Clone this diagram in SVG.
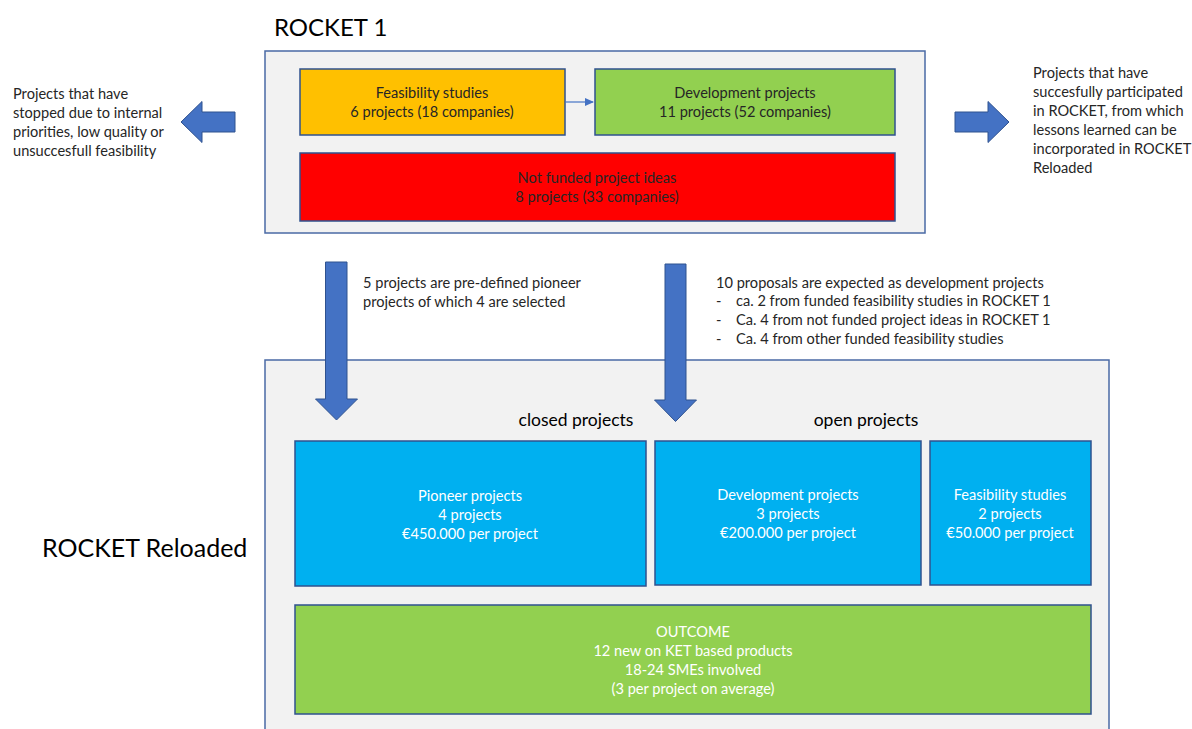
<svg xmlns="http://www.w3.org/2000/svg" width="1192" height="729" viewBox="0 0 1192 729">
<style>
text{font-family:"Lato","Liberation Sans",sans-serif;font-size:14.6px;fill:#262626}
.w{fill:#ffffff}
.c{text-anchor:middle}
.cont{fill:#f2f2f2;stroke:#4a6aa5;stroke-width:1.5}
.box{stroke:#2f528f;stroke-width:1.5}
.arr{fill:#4472c4;stroke:#2f528f;stroke-width:1}
.big{font-size:24px;fill:#000}
.mid{font-size:17.5px;fill:#000}
</style>
<defs>
<marker id="ah" markerWidth="10" markerHeight="10" refX="8" refY="4" orient="auto" markerUnits="userSpaceOnUse">
<path d="M0,0 L9,4 L0,8 Z" fill="#4472c4"/>
</marker>
</defs>
<rect width="1192" height="729" fill="#ffffff"/>

<g id="rocket1">
<text x="274" y="36" class="big">ROCKET 1</text>
<rect x="265" y="51" width="660" height="182" class="cont"/>
</g>
<g id="feas1">
<rect x="300" y="69" width="265" height="66" fill="#ffc000" class="box"/>
<text x="432" y="98" class="c">Feasibility studies</text>
<text x="432" y="117" class="c">6 projects (18 companies)</text>
</g>
<g id="dev1">
<rect x="595" y="69" width="300" height="66" fill="#92d050" class="box"/>
<text x="745" y="98" class="c">Development projects</text>
<text x="745" y="117" class="c">11 projects (52 companies)</text>
</g>
<g id="notfunded">
<rect x="300" y="153" width="595" height="68" fill="#ff0000" class="box"/>
<text x="597" y="183" class="c">Not funded project ideas</text>
<text x="597" y="202" class="c">8 projects (33 companies)</text>
</g>

<g id="left-note">
<text x="13"><tspan x="13" y="99">Projects that have</tspan><tspan x="13" y="118">stopped due to internal</tspan><tspan x="13" y="137">priorities, low quality or</tspan><tspan x="13" y="156">unsuccesfull feasibility</tspan></text>
</g>
<g id="right-note">
<text x="1033"><tspan x="1033" y="78">Projects that have</tspan><tspan x="1033" y="97">succesfully participated</tspan><tspan x="1033" y="116">in ROCKET, from which</tspan><tspan x="1033" y="135">lessons learned can be</tspan><tspan x="1033" y="154">incorporated in ROCKET</tspan><tspan x="1033" y="173">Reloaded</tspan></text>
</g>
<g id="note-pioneer">
<text x="363" y="288">5 projects are pre-defined pioneer</text>
<text x="363" y="307">projects of which 4 are selected</text>
</g>
<g id="note-dev">
<text x="716" y="288">10 proposals are expected as development projects</text>
<text x="716" y="306">-</text><text x="736" y="306">ca. 2 from funded feasibility studies in ROCKET 1</text>
<text x="716" y="325">-</text><text x="736" y="325">Ca. 4 from not funded project ideas in ROCKET 1</text>
<text x="716" y="344">-</text><text x="736" y="344">Ca. 4 from other funded feasibility studies</text>
</g>

<g id="reloaded">
<rect x="265" y="360" width="844" height="380" class="cont"/>
<text x="42" y="557" class="big" style="font-size:25px">ROCKET Reloaded</text>
<text x="576" y="426" class="mid c">closed projects</text>
<text x="866" y="426" class="mid c">open projects</text>
</g>
<g id="pioneer">
<rect x="295" y="441" width="351" height="145" fill="#00b0f0" class="box"/>
<text x="470" y="501" class="c w">Pioneer projects</text>
<text x="470" y="520" class="c w">4 projects</text>
<text x="470" y="539" class="c w">€450.000 per project</text>
</g>
<g id="dev2">
<rect x="655" y="441" width="266" height="144" fill="#00b0f0" class="box"/>
<text x="788" y="500" class="c w">Development projects</text>
<text x="788" y="519" class="c w">3 projects</text>
<text x="788" y="538" class="c w">€200.000 per project</text>
</g>
<g id="feas2">
<rect x="930" y="441" width="161" height="144" fill="#00b0f0" class="box"/>
<text x="1010" y="500" class="c w">Feasibility studies</text>
<text x="1010" y="519" class="c w">2 projects</text>
<text x="1010" y="538" class="c w">€50.000 per project</text>
</g>
<g id="outcome">
<rect x="295" y="605" width="796" height="109" fill="#92d050" class="box"/>
<text x="693" y="637" class="c w">OUTCOME</text>
<text x="693" y="656" class="c w">12 new on KET based products</text>
<text x="693" y="675" class="c w">18-24 SMEs involved</text>
<text x="693" y="694" class="c w">(3 per project on average)</text>
</g>

<g id="connectors">
<line x1="565" y1="102" x2="593" y2="102" stroke="#4472c4" stroke-width="1.2" marker-end="url(#ah)"/>
<path class="arr" d="M235,112 L202,112 L202,101.5 L181,122 L202,142.5 L202,132 L235,132 Z"/>
<path class="arr" d="M955,112 L988,112 L988,101.5 L1009,122 L988,142.5 L988,132 L955,132 Z"/>
<path class="arr" d="M325.5,262 L347,262 L347,399 L357.5,399 L336.5,420 L315.5,399 L325.5,399 Z"/>
<path class="arr" d="M665,264 L686,264 L686,400 L696.5,400 L675.5,421.5 L654.5,400 L665,400 Z"/>
</g>
</svg>
